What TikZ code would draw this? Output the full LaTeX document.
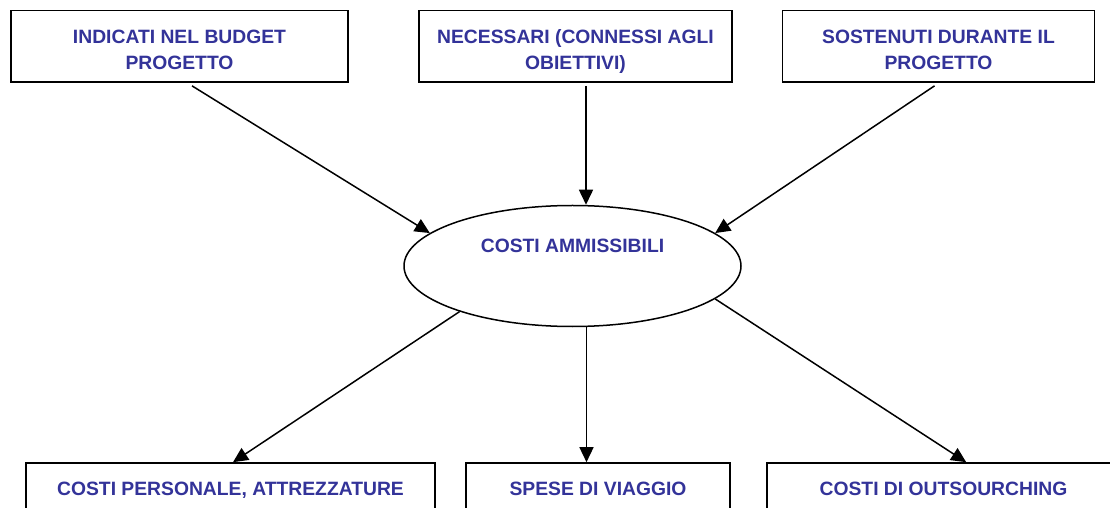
\documentclass[tikz,border=0pt]{standalone}
\usepackage{fontspec}
\setmainfont{Liberation Sans}
\usetikzlibrary{arrows.meta,shapes.geometric,calc}
\definecolor{txtblue}{RGB}{51,51,153}
\begin{document}
\begin{tikzpicture}[x=1bp,y=-1bp,
  txt/.style={font=\bfseries\fontsize{19.3bp}{26bp}\selectfont,text=txtblue},
  topbox/.style={draw,line width=1.6bp,minimum width=#1,minimum height=71.5bp,inner sep=0pt,txt,align=center,text height=46bp,text depth=0pt},
  botbox/.style={draw,line width=1.6bp,minimum width=#1,minimum height=52bp,inner sep=0pt,txt,text height=13.9bp,text depth=0pt},
  oval/.style={draw,ellipse,line width=1.5bp,minimum width=337bp,minimum height=121bp,inner sep=0pt},
  arr/.style={line width=1.5bp,-{Triangle[length=15bp,width=14bp]}}]
\path[use as bounding box,fill=white] (0,0) rectangle (1110,508);
\node[topbox=337bp] (b1) at (179.5,46.3) {INDICATI NEL BUDGET\\PROGETTO};
\node[topbox=313bp] (b2) at (575.5,46.3) {NECESSARI (CONNESSI AGLI\\OBIETTIVI)};
\node[topbox=312bp] (b3) at (938.5,46.3) {SOSTENUTI DURANTE IL\\PROGETTO};
\node[oval] (ca) at (572.5,266) {};
\node[txt,text height=13.9bp,text depth=0pt,inner sep=0pt] (catext) at (572.5,245.5) {COSTI AMMISSIBILI};
\node[botbox=409bp] (bA) at (230.5,489) {COSTI PERSONALE, ATTREZZATURE};
\node[botbox=264bp] (bB) at (598,489) {SPESE DI VIAGGIO};
\node[botbox=353bp] (bC) at (943.5,489) {COSTI DI OUTSOURCHING};
\draw[arr] ([xshift=12.5bp,yshift=-3bp]b1.south) -- (ca.167);
\draw[arr] ([xshift=10.5bp,yshift=-3bp]b2.south) -- ([xshift=10.5bp]b2.south |- ca.north);
\draw[arr] ([xshift=-4bp,yshift=-3bp]b3.south) -- (ca.13);
\draw[arr] (ca.202) -- ([xshift=2.5bp]bA.north);
\draw[arr] ([xshift=14bp]ca.south) -- ([xshift=14bp]ca.south |- bB.north);
\draw[arr] (ca.347) -- ([xshift=200bp]bC.north west);
\end{tikzpicture}
\end{document}
